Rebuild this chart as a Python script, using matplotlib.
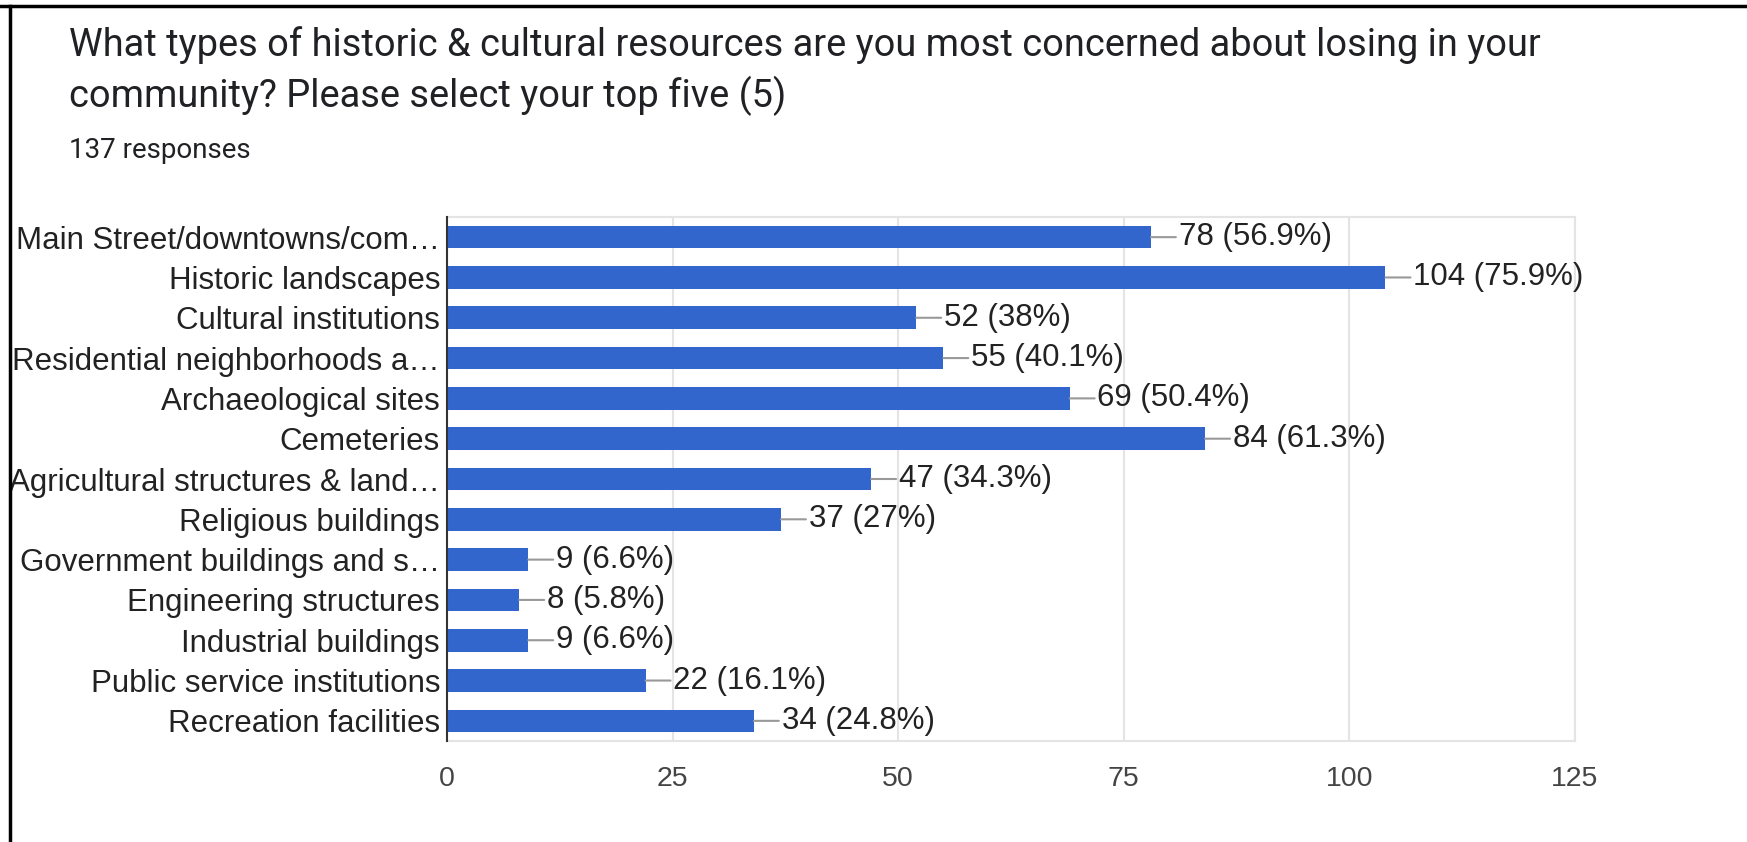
import matplotlib
matplotlib.use("Agg")
import matplotlib.pyplot as plt
from matplotlib.lines import Line2D

# Survey responses (count per option), 137 respondents in total
categories = [
    "Main Street/downtowns/com\u2026",
    "Historic landscapes",
    "Cultural institutions",
    "Residential neighborhoods a\u2026",
    "Archaeological sites",
    "Cemeteries",
    "Agricultural structures & land\u2026",
    "Religious buildings",
    "Government buildings and s\u2026",
    "Engineering structures",
    "Industrial buildings",
    "Public service institutions",
    "Recreation facilities",
]
counts = [78, 104, 52, 55, 69, 84, 47, 37, 9, 8, 9, 22, 34]
percent_labels = ["56.9%", "75.9%", "38%", "40.1%", "50.4%", "61.3%", "34.3%",
                  "27%", "6.6%", "5.8%", "6.6%", "16.1%", "24.8%"]
x_ticks = [0, 25, 50, 75, 100, 125]

title_lines = [
    "What types of historic & cultural resources are you most concerned about losing in your",
    "community? Please select your top five (5)",
]
subtitle = "137 responses"

W, H = 1747, 842
fig = plt.figure(figsize=(W / 100, H / 100), dpi=100)
fig.patch.set_facecolor("white")

# plot area in pixel terms
left_px, right_px, top_px, bottom_px = 447, 1575, 217, 741
ax = fig.add_axes([left_px / W, 1 - bottom_px / H,
                   (right_px - left_px) / W, (bottom_px - top_px) / H])

n = len(categories)
ypos = list(range(n))
ax.barh(ypos, counts, height=0.56, color="#3366CC", zorder=3)
ax.set_ylim(n - 0.5, -0.5)
ax.set_xlim(0, 125)

label_font = "Liberation Sans"
ax.set_yticks(ypos)
ax.set_yticklabels(categories, fontsize=22.5, family=label_font, color="#222222")
ax.set_xticks(x_ticks)
ax.set_xticklabels([str(t) for t in x_ticks], fontsize=20.5, family=label_font,
                   color="#444444")
ax.tick_params(axis="y", length=0, pad=5)
ax.tick_params(axis="x", length=0, pad=18)

ax.grid(axis="x", color="#e4e4e4", linewidth=1.5, zorder=0)
for side in ("top", "right", "bottom"):
    ax.spines[side].set_color("#e4e4e4")
    ax.spines[side].set_linewidth(1.5)
ax.spines["left"].set_color("#333333")
ax.spines["left"].set_linewidth(1.5)
ax.spines["left"].set_zorder(4)

# value labels with a short leader line
for i, (c, p) in enumerate(zip(counts, percent_labels)):
    ax.annotate(f"{c} ({p})", xy=(c, i), xytext=(20, 0), textcoords="offset points",
                ha="left", va="center", fontsize=22.5, family=label_font,
                color="#222222",
                arrowprops=dict(arrowstyle="-", color="#999999", lw=1.5,
                                shrinkA=0, shrinkB=0),
                zorder=5)

# title block
fig.text(69 / W, 1 - 45 / H, title_lines[0], ha="left", va="center",
         fontsize=27.4, family="Roboto", color="#202124")
fig.text(69 / W, 1 - 96 / H, title_lines[1], ha="left", va="center",
         fontsize=27.4, family="Roboto", color="#202124")
fig.text(69 / W, 1 - 150 / H, subtitle, ha="left", va="center",
         fontsize=20, family="Roboto", color="#202124")

# frame lines along the top and left edges
fig.add_artist(Line2D([0, 1], [1 - 6 / H, 1 - 6 / H], transform=fig.transFigure,
                      color="black", linewidth=2.5))
fig.add_artist(Line2D([10 / W, 10 / W], [0, 1 - 6 / H], transform=fig.transFigure,
                      color="black", linewidth=2.5))

fig.savefig("out.png", dpi=100, facecolor="white")
